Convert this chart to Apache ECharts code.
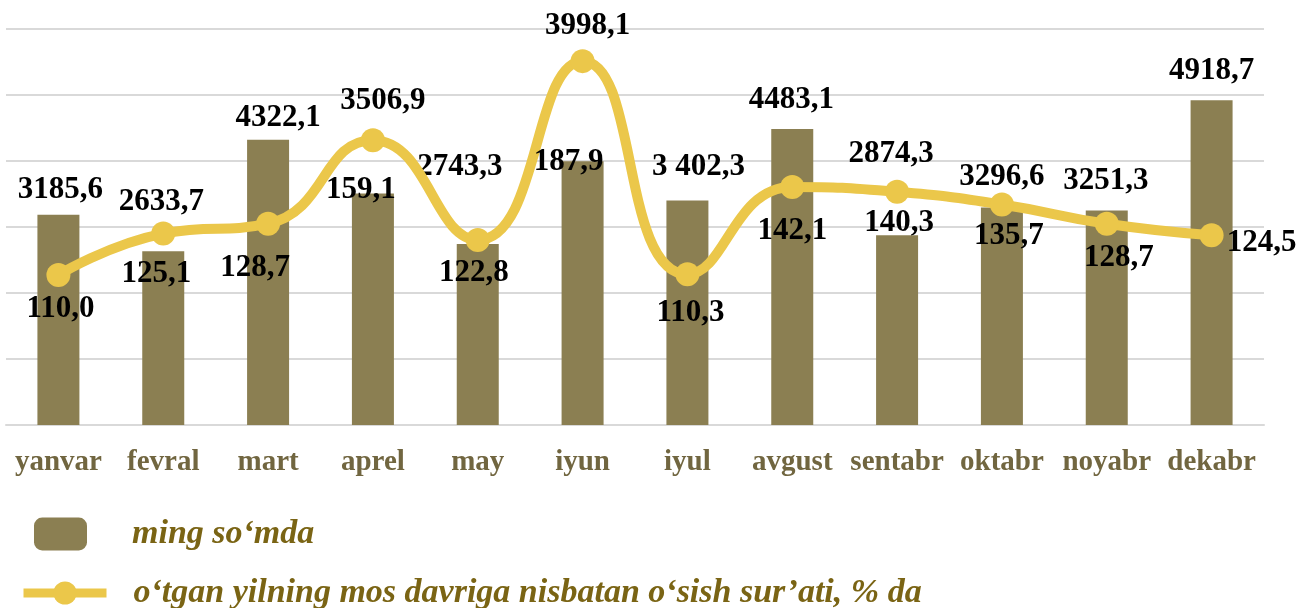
<!DOCTYPE html>
<html lang="uz">
  <head>
    <meta charset="UTF-8" />
    <meta name="viewport" content="width=device-width, initial-scale=1.0" />
    <script src="https://cdn.jsdelivr.net/npm/echarts@6/dist/echarts.min.js"></script>
    <title>Chart</title>
    <style>
      html, body { margin: 0; padding: 0; background: #fff; }
    </style>
    <script>
      // oylar
      const months = ["yanvar", "fevral", "mart", "aprel", "may", "iyun", "iyul", "avgust", "sentabr", "oktabr", "noyabr", "dekabr"];
      // ming so'mda
      const sums = [3185.6, 2633.7, 4322.1, 3506.9, 2743.3, 3998.1, 3402.3, 4483.1, 2874.3, 3296.6, 3251.3, 4918.7];
      const sumText = ["3185,6", "2633,7", "4322,1", "3506,9", "2743,3", "3998,1", "3 402,3", "4483,1", "2874,3", "3296,6", "3251,3", "4918,7"];
      // o'sish sur'ati, %
      const growth = [110.0, 125.1, 128.7, 159.1, 122.8, 187.9, 110.3, 142.1, 140.3, 135.7, 128.7, 124.5];

      const barName = "ming so‘mda";
      const lineName = "o‘tgan yilning mos davriga nisbatan o‘sish sur’ati, % da";

      // label placement (px, from bar top / from point)
      const barLabelShift = [[2, -25], [-2, -49], [10, -22], [10, -93], [-18, -77], [5, -135], [11, -33], [-1, -29], [-6, -81], [0, -30], [-1, -29], [0, -29]];
      const lineLabelShift = [[2, 34], [-7, 40], [-13, 44], [-12, 50], [-4, 33], [-14, 101], [3, 39], [0, 44], [2, 31], [7, 32], [12, 34], [50, 8]];

      window.onload = function () {
        const serif = "Liberation Serif, Times New Roman, serif";
        const labelFont = { fontFamily: serif, fontWeight: "bold", fontSize: 31, color: "#000" };

        const barData = sums.map((v, i) => ({
          value: v,
          label: {
            show: true,
            position: "top",
            distance: 0,
            verticalAlign: "middle",
            offset: barLabelShift[i],
            formatter: sumText[i],
            ...labelFont,
          },
        }));
        const lineData = growth.map((v, i) => ({
          value: v,
          label: {
            show: true,
            position: "inside",
            offset: lineLabelShift[i],
            formatter: v.toFixed(1).replace(".", ","),
            ...labelFont,
          },
        }));

        const legendText = { fontFamily: serif, fontWeight: "bold", fontStyle: "italic", fontSize: 34, color: "#7A6414" };

        const chart = echarts.init(document.getElementById("main"));
        chart.setOption({
          animation: false,
          grid: { left: 6, top: 29, width: 1258, height: 396 },
          legend: [
            {
              data: [barName],
              left: 34,
              top: 517,
              padding: 0,
              itemWidth: 53,
              itemHeight: 33,
              icon: "roundRect",
              textStyle: { ...legendText, padding: [0, 0, 0, 40] },
            },
            {
              data: [lineName],
              left: 19,
              top: 576,
              padding: 0,
              itemWidth: 83,
              itemHeight: 29,
              lineStyle: { width: 9 },
              textStyle: { ...legendText, padding: [0, 0, 0, 22] },
            },
          ],
          xAxis: {
            type: "category",
            data: months,
            axisTick: { show: false },
            axisLine: { lineStyle: { color: "#D9D9D9", width: 2 } },
            axisLabel: {
              interval: 0,
              margin: 23,
              fontFamily: serif,
              fontWeight: "bold",
              fontSize: 29,
              color: "#716640",
            },
          },
          yAxis: [
            {
              type: "value",
              min: 0,
              max: 6000,
              interval: 1000,
              axisLabel: { show: false },
              axisLine: { show: false },
              splitLine: { lineStyle: { color: "#D9D9D9", width: 2 } },
            },
            {
              type: "value",
              min: 55.4,
              max: 199.6,
              show: false,
              splitLine: { show: false },
            },
          ],
          series: [
            {
              name: barName,
              type: "bar",
              data: barData,
              barWidth: 42,
              itemStyle: { color: "#8B7F52" },
            },
            {
              name: lineName,
              type: "line",
              yAxisIndex: 1,
              data: lineData,
              smooth: 0.5,
              symbol: "circle",
              symbolSize: 24,
              lineStyle: { color: "#EBC74A", width: 10 },
              itemStyle: { color: "#EBC74A" },
            },
          ],
        });
      };
    </script>
  </head>
  <body>
    <div id="main" style="width: 1297px; height: 608px"></div>
  </body>
</html>
